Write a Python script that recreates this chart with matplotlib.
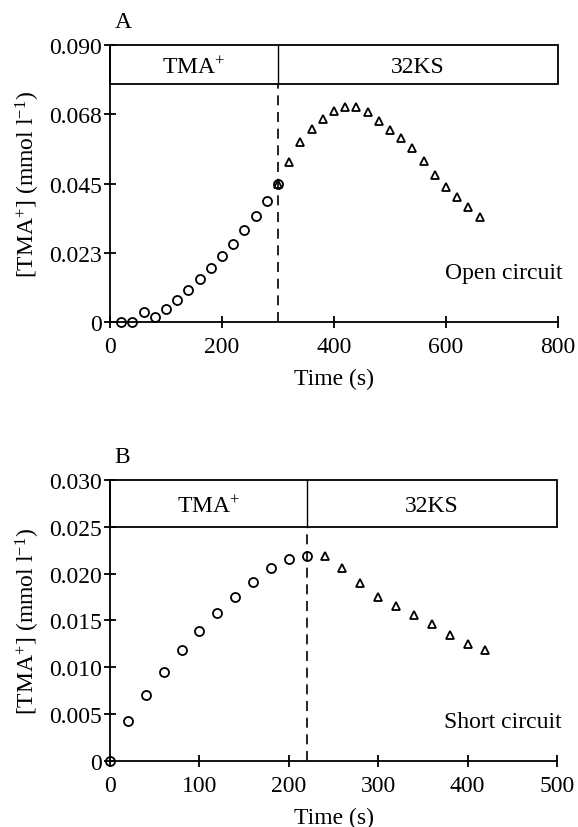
import matplotlib
matplotlib.use('Agg')
import matplotlib.pyplot as plt
from matplotlib.patches import Rectangle

matplotlib.rcParams['font.family'] = 'Liberation Serif'
matplotlib.rcParams['mathtext.fontset'] = 'custom'
matplotlib.rcParams['mathtext.rm'] = 'Liberation Serif'
matplotlib.rcParams['mathtext.it'] = 'Liberation Serif:italic'
matplotlib.rcParams['font.size'] = 17.

# Panel A: open circuit
a_tma_t = [20, 40, 60, 80, 100, 120, 140, 160, 180, 200, 220, 240, 260, 280, 300]
a_tma_c = [0.0, 0.0, 0.0033, 0.0017, 0.0042, 0.0072, 0.0105, 0.0140, 0.0175,
           0.0215, 0.0254, 0.0298, 0.0344, 0.0394, 0.0447]
a_ks_t = [300, 320, 340, 360, 380, 400, 420, 440, 460, 480, 500, 520, 540, 560,
          580, 600, 620, 640, 660]
a_ks_c = [0.0447, 0.0521, 0.0584, 0.0626, 0.0660, 0.0687, 0.0699, 0.0700, 0.0683,
          0.0652, 0.0623, 0.0597, 0.0565, 0.0523, 0.0478, 0.0439, 0.0407, 0.0374,
          0.0340]
a_yticks = [0, 0.0225, 0.045, 0.0675, 0.090]
a_yticklabels = ['0', '0.023', '0.045', '0.068', '0.090']
a_xticks = [0, 200, 400, 600, 800]

# Panel B: short circuit
b_tma_t = [0, 20, 40, 60, 80, 100, 120, 140, 160, 180, 200, 220]
b_tma_c = [0.0, 0.0043, 0.0070, 0.0095, 0.0118, 0.0139, 0.0158, 0.0175, 0.0191,
           0.0206, 0.0216, 0.0219]
b_ks_t = [240, 260, 280, 300, 320, 340, 360, 380, 400, 420]
b_ks_c = [0.0219, 0.0206, 0.0190, 0.0175, 0.0165, 0.0156, 0.0146, 0.0134, 0.0125,
          0.0118]
b_yticks = [0, 0.005, 0.010, 0.015, 0.020, 0.025, 0.030]
b_yticklabels = ['0', '0.005', '0.010', '0.015', '0.020', '0.025', '0.030']
b_xticks = [0, 100, 200, 300, 400, 500]

ylabel = r'[TMA$^{+}$] (mmol l$^{-1}$)'


def panel(ax, tma_t, tma_c, ks_t, ks_c, switch, xmax, ymax, box_lo,
          xticks, yticks, yticklabels, letter, note, note_y):
    ax.plot(tma_t, tma_c, 'o', ms=6.5, mfc='none', mec='k', mew=1.3,
            clip_on=False, zorder=3)
    ax.plot(ks_t, ks_c, '^', ms=6, mfc='none', mec='k', mew=1.3,
            clip_on=False, zorder=3)
    ax.plot([switch, switch], [0, box_lo], 'k--', lw=1.2, dashes=(6, 4))
    ax.add_patch(Rectangle((0, box_lo), xmax, ymax - box_lo, fill=False,
                           ec='k', lw=1.3, clip_on=False))
    ax.plot([switch, switch], [box_lo, ymax], 'k-', lw=1.0)
    ax.text(switch / 2., (box_lo + ymax) / 2., r'TMA$^{+}$', ha='center',
            va='center_baseline')
    ax.text((switch + xmax) / 2., (box_lo + ymax) / 2., '32KS', ha='center',
            va='center_baseline')
    ax.set_xlim(0, xmax)
    ax.set_ylim(0, ymax)
    ax.set_xticks(xticks)
    ax.set_yticks(yticks)
    ax.set_yticklabels(yticklabels)
    ax.spines['top'].set_visible(False)
    ax.spines['right'].set_visible(False)
    ax.spines['left'].set_linewidth(1.3)
    ax.spines['bottom'].set_linewidth(1.3)
    ax.tick_params(direction='inout', length=8, width=1.3)
    ax.tick_params(axis='x', pad=6)
    ax.tick_params(axis='y', pad=2)
    ax.set_xlabel('Time (s)', labelpad=8)
    ax.set_ylabel(ylabel, labelpad=5)
    ax.text(1.01, note_y, note, transform=ax.transAxes, ha='right',
            va='center')
    ax.text(0.01, 1.085, letter, transform=ax.transAxes, ha='left',
            va='center')


fig = plt.figure(figsize=(5.78, 8.28), dpi=100)
ax1 = fig.add_axes([0.1903, 0.6099, 0.775, 0.3345])
ax2 = fig.add_axes([0.1903, 0.0797, 0.7734, 0.3394])

panel(ax1, a_tma_t, a_tma_c, a_ks_t, a_ks_c, 300, 800, 0.090, 0.0775,
      a_xticks, a_yticks, a_yticklabels, 'A', 'Open circuit', 0.18)
panel(ax2, b_tma_t, b_tma_c, b_ks_t, b_ks_c, 220, 500, 0.030, 0.025,
      b_xticks, b_yticks, b_yticklabels, 'B', 'Short circuit', 0.14)

plt.savefig('out.png', dpi=100)
